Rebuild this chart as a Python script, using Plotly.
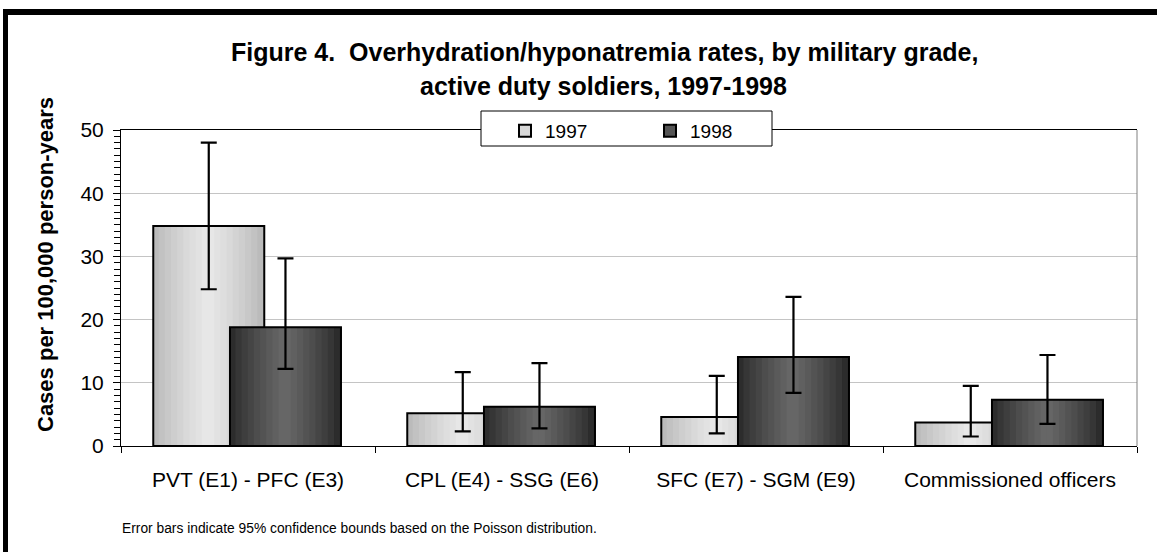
import plotly.graph_objects as go

# ---------------- data ----------------
categories = ["PVT (E1) - PFC (E3)", "CPL (E4) - SSG (E6)", "SFC (E7) - SGM (E9)", "Commissioned officers"]
rate_1997 = [34.8, 5.2, 4.6, 3.7]
upper_1997 = [48.0, 11.7, 11.1, 9.5]
lower_1997 = [24.8, 2.3, 2.0, 1.5]
rate_1998 = [18.8, 6.2, 14.1, 7.3]
upper_1998 = [29.7, 13.1, 23.6, 14.4]
lower_1998 = [12.2, 2.8, 8.4, 3.5]
series_names = ["1997", "1998"]

title_line1 = "Figure 4.  Overhydration/hyponatremia rates, by military grade,"
title_line2 = "active duty soldiers, 1997-1998"
y_title = "Cases per 100,000 person-years"
footnote = "Error bars indicate 95% confidence bounds based on the Poisson distribution."

# ---------------- layout geometry ----------------
W, H = 1157, 552
L, R, T, B = 121, 1137, 130, 446
FONT = "Arial, Liberation Sans, sans-serif"


def px_x(x):
    return (x - L) / (R - L)


def px_y(y):
    return (B - y) / (B - T)


bar_w = 0.437
offsets = [-0.373, -0.071]
edge_colors = [(182, 182, 182), (38, 38, 38)]
mid_colors = [(234, 234, 234), (106, 106, 106)]
legend_colors = ["#d8d8d8", "#555555"]
N_STRIPS = 18

fig = go.Figure()

series = [
    (rate_1997, upper_1997, lower_1997),
    (rate_1998, upper_1998, lower_1998),
]

for si, (vals, up, lo) in enumerate(series):
    e = edge_colors[si]
    m = mid_colors[si]
    sw = bar_w / N_STRIPS
    for k in range(N_STRIPS):
        t = (k + 0.5) / N_STRIPS
        f = 1 - abs(2 * t - 1)  # 0 at edges, 1 at center
        f = f ** 0.8
        c = tuple(int(e[j] + (m[j] - e[j]) * f) for j in range(3))
        fig.add_trace(go.Bar(
            x=categories, y=vals,
            width=sw * 1.25, offset=offsets[si] + k * sw - (0.125 * sw if k > 0 else 0),
            marker=dict(color="rgb(%d,%d,%d)" % c, line=dict(width=0)),
            showlegend=False, hoverinfo="skip",
        ))
    # outline + error bars
    fig.add_trace(go.Bar(
        x=categories, y=vals, width=bar_w, offset=offsets[si],
        marker=dict(color="rgba(0,0,0,0)", line=dict(color="black", width=2)),
        error_y=dict(type="data", symmetric=False,
                     array=[u - v for u, v in zip(up, vals)],
                     arrayminus=[v - l for v, l in zip(vals, lo)],
                     color="black", thickness=2.2, width=8),
        showlegend=False, name=series_names[si],
    ))

# legend-only entries
for si in range(2):
    fig.add_trace(go.Bar(
        x=[categories[0]], y=[None], name=series_names[si],
        marker=dict(color=legend_colors[si], line=dict(color="black", width=2)),
        showlegend=True,
    ))

shapes = [
    # plot area right border (gray)
    dict(type="line", xref="paper", yref="paper", x0=1, x1=1, y0=0, y1=1,
         line=dict(color="#808080", width=1), layer="above"),
    # legend box
    dict(type="rect", xref="paper", yref="paper", x0=px_x(481), x1=px_x(772),
         y0=px_y(146), y1=px_y(111), fillcolor="white",
         line=dict(color="black", width=1), layer="above"),
    # outer frame
    dict(type="line", xref="paper", yref="paper", x0=px_x(3), x1=px_x(1170),
         y0=px_y(12), y1=px_y(12), line=dict(color="black", width=6), layer="above"),
    dict(type="line", xref="paper", yref="paper", x0=px_x(5.5), x1=px_x(5.5),
         y0=px_y(9), y1=px_y(570), line=dict(color="black", width=5), layer="above"),
]

annotations = [
    dict(text="<b>%s</b>" % title_line1, x=px_x(604), y=px_y(52), xref="paper", yref="paper",
         showarrow=False, xanchor="center", yanchor="middle",
         font=dict(family=FONT, size=25, color="black")),
    dict(text="<b>%s</b>" % title_line2, x=px_x(603), y=px_y(86), xref="paper", yref="paper",
         showarrow=False, xanchor="center", yanchor="middle",
         font=dict(family=FONT, size=25, color="black")),
    dict(text="<b>%s</b>" % y_title, x=px_x(45), y=px_y(265), xref="paper", yref="paper",
         showarrow=False, xanchor="center", yanchor="middle", textangle=-90,
         font=dict(family=FONT, size=22, color="black")),
    dict(text=footnote, x=px_x(120), y=px_y(528), xref="paper", yref="paper",
         showarrow=False, xanchor="left", yanchor="middle",
         font=dict(family=FONT, size=13.8, color="black")),
]

fig.update_layout(
    width=W, height=H,
    margin=dict(l=L, r=W - R, t=T, b=H - B, autoexpand=False),
    paper_bgcolor="white", plot_bgcolor="white",
    barmode="overlay",
    showlegend=True,
    legend=dict(orientation="h", x=px_x(505), y=px_y(112), xanchor="left", yanchor="top",
                bgcolor="rgba(0,0,0,0)", borderwidth=0, entrywidth=100,
                font=dict(family=FONT, size=19, color="black"), itemclick=False),
    shapes=shapes,
    annotations=annotations,
    font=dict(family=FONT, color="black"),
)

fig.update_xaxes(
    type="category", range=[-0.5, 3.5],
    showline=True, linecolor="black", linewidth=1, mirror=True,
    ticks="outside", tickson="boundaries", ticklen=6, tickcolor="black",
    tickfont=dict(family=FONT, size=21, color="black"), ticklabelstandoff=15,
    showgrid=False, zeroline=False, fixedrange=True,
)
fig.update_yaxes(
    range=[0, 50], dtick=10, tick0=0,
    showline=True, linecolor="black", linewidth=1,
    ticks="outside", ticklen=7, tickcolor="black",
    minor=dict(dtick=1, ticks="outside", ticklen=6, tickcolor="black", showgrid=False),
    tickfont=dict(family=FONT, size=21, color="black"), ticklabelstandoff=5,
    showgrid=True, gridcolor="#c4c4c4", gridwidth=1,
    zeroline=False, fixedrange=True,
)

fig.write_html("out.html", config={"displayModeBar": False},
               post_script="document.body.style.margin='0';document.body.style.overflow='hidden';")
